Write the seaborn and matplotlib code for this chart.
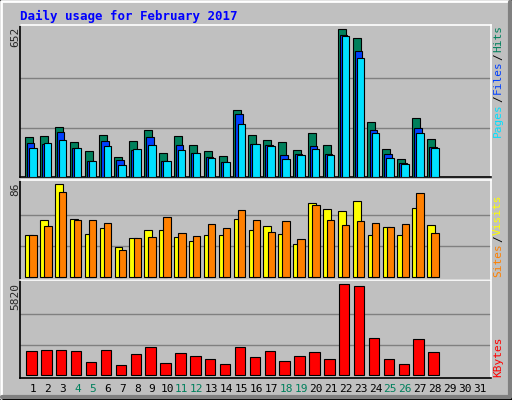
import numpy as np
import seaborn as sns
import matplotlib.pyplot as plt
from matplotlib.patches import Rectangle
from matplotlib.lines import Line2D

sns.set_style("white")
plt.rcParams['font.family'] = ['DejaVu Sans Mono']

# ---- data ----
days = list(range(1, 29))
hits = [174, 178, 218, 152, 112, 186, 86, 156, 205, 103, 178, 139, 112, 90, 294,
        183, 161, 152, 117, 192, 139, 652, 612, 240, 121, 77, 258, 165]
files = [148, 145, 196, 125, 68, 156, 72, 117, 174, 68, 139, 103, 86, 63, 276,
         143, 139, 94, 99, 134, 99, 625, 555, 205, 99, 59, 214, 130]
pages = [125, 148, 161, 125, 68, 134, 50, 121, 139, 68, 117, 103, 81, 63, 232,
         143, 134, 77, 94, 121, 94, 621, 524, 192, 81, 55, 192, 125]
visits = [38.5, 52.5, 86, 54, 40, 45, 28, 36, 43, 43, 37, 33, 39, 39, 54,
          43, 47, 40, 30, 69, 63, 61, 70, 39, 46, 39, 64, 48]
sites = [38.5, 47, 79, 52.5, 53, 50, 25, 36, 37, 56, 41, 37.5, 49, 45, 62,
         52.5, 42, 51.5, 35, 67, 52.5, 48, 51.5, 50, 46, 49, 78, 41]
kbytes = [1551, 1614, 1614, 1551, 850, 1614, 658, 1359, 1805, 786, 1423, 1232, 1041, 722, 1805,
          1168, 1551, 913, 1232, 1487, 1041, 5820, 5693, 2379, 1041, 722, 2315, 1487]
tick_days = list(range(1, 32))
weekend_days = [4, 5, 11, 12, 18, 19, 25, 26]

C_HITS, C_FILES, C_PAGES = '#00805C', '#0040FF', '#00E0FF'
C_VISITS, C_SITES, C_KB = '#FFFF00', '#FF8000', '#FF0000'
BG = '#C0C0C0'
W, H = 512, 400

fig = plt.figure(figsize=(W / 100, H / 100), dpi=100)
fig.patch.set_facecolor(BG)

# bevel border
fig.add_artist(Line2D([1 / W, 1 / W, 1 - 2 / W], [2 / H, 1 - 1 / H, 1 - 1 / H], color='white', lw=2))
fig.add_artist(Line2D([2 / W, 1 - 2 / W, 1 - 2 / W], [3 / H, 3 / H, 1 - 2 / H], color='#808080', lw=3))
fig.add_artist(Rectangle((0, 0), 1, 1, transform=fig.transFigure, fill=False, ec='black', lw=1.5))

fig.text(20 / W, 1 - 16 / H, 'Daily usage for February 2017', color='#0000FF',
         fontsize=9, fontweight='bold', va='center')

def panel(top_px, bot_px):
    ax = fig.add_axes([20 / W, 1 - bot_px / H, 471 / W, (bot_px - top_px) / H])
    ax.set_facecolor(BG)
    ax.set_xlim(0.127, 31.76)
    ax.set_xticks([])
    ax.set_yticks([])
    for s in ['left', 'bottom']:
        ax.spines[s].set_color('black')
    for s in ['top', 'right']:
        ax.spines[s].set_color('white')
    for s in ax.spines.values():
        s.set_linewidth(1.2)
    return ax

x = np.array(days)
kw = dict(edgecolor='black', linewidth=0.8, zorder=3)

# top panel
ax1 = panel(25, 177)
ax1.set_ylim(-1.3, 671)
for g in (652 / 3, 652 * 2 / 3):
    ax1.axhline(g, color='#808080', lw=1, zorder=1)
ax1.bar(x - 0.27, hits, width=0.54, color=C_HITS, **kw)
ax1.bar(x - 0.15, files, width=0.5, color=C_FILES, **kw)
ax1.bar(x - 0.01, pages, width=0.5, color=C_PAGES, **kw)

# middle panel
ax2 = panel(180, 280)
ax2.set_ylim(-3.1, 90)
for g in (86 / 3, 86 * 2 / 3):
    ax2.axhline(g, color='#808080', lw=1, zorder=1)
ax2.bar(x - 0.26, visits, width=0.52, color=C_VISITS, **kw)
ax2.bar(x + 0.0, sites, width=0.49, color=C_SITES, **kw)

# bottom panel
ax3 = panel(280, 378)
ax3.set_ylim(-166, 6056)
for g in (5820 / 3, 5820 * 2 / 3):
    ax3.axhline(g, color='#808080', lw=1, zorder=1)
ax3.bar(x - 0.1, kbytes, width=0.7, color=C_KB, **kw)

# day labels
for d in tick_days:
    px = 33 + (d - 1) * 14.89
    fig.text(px / W, 1 - 389 / H, str(d), ha='center', va='center', fontsize=8,
             color=C_HITS if d in weekend_days else 'black')

# left max labels
for lbl, ytop in [('652', 27), ('86', 182), ('5820', 283)]:
    fig.text(15 / W, 1 - ytop / H, lbl, rotation=90, ha='center', va='top', fontsize=8)

# right legends (bottom to top), measured so pieces do not overlap
renderer = fig.canvas.get_renderer()

def right_label(parts, ybot):
    y = ybot
    for txt, col in parts:
        t = fig.text(498 / W, 1 - y / H, txt, rotation=90, ha='center', va='bottom',
                     fontsize=8, color=col)
        y -= t.get_window_extent(renderer).height + 1

right_label([('Pages', C_PAGES), ('/', 'black'), ('Files', C_FILES), ('/', 'black'), ('Hits', C_HITS)], 137)
right_label([('Sites', C_SITES), ('/', 'black'), ('Visits', C_VISITS)], 277)
right_label([('KBytes', C_KB)], 377)

fig.savefig('out.png', dpi=100, facecolor=BG)
